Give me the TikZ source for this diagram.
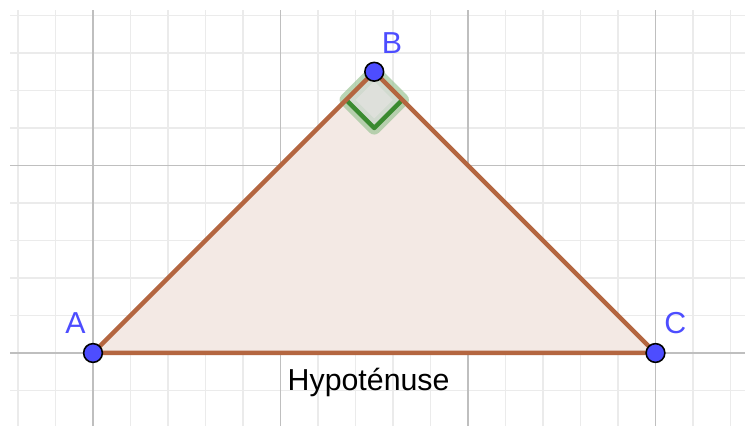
\documentclass[tikz,border=0pt]{standalone}
\usepackage{fontspec}
\setmainfont{Liberation Sans}
\usetikzlibrary{positioning, calc}

\definecolor{ptblue}{RGB}{77,77,255}
\definecolor{sidebrown}{RGB}{180,102,64}
\definecolor{trifill}{RGB}{243,233,228}
\definecolor{anglegreen}{RGB}{58,138,48}

\begin{document}
\begin{tikzpicture}[
    % Styles for grid, triangle, points and labels
    minorgrid/.style={draw=black!8, line width=1.1pt},
    majorgrid/.style={draw=black!25, line width=1.4pt},
    side/.style={draw=sidebrown, line width=3.4pt, line join=round},
    pt/.style={circle, draw=black, fill=ptblue, line width=1.2pt, minimum size=0.5cm, inner sep=0pt},
    ptlabel/.style={text=ptblue, font=\fontsize{23}{27}\selectfont, anchor=base, inner sep=0pt},
    caption/.style={text=black, font=\fontsize{23}{27}\selectfont, anchor=base, inner sep=0pt}
]

    % Frame of the picture
    \useasboundingbox (-2.48,-1.947) rectangle (17.387,9.413);
    \fill[white] (-2.48,-1.947) rectangle (17.387,9.413);

    % Grid
    \draw[minorgrid] (-2.213,-1.947) grid (17.387,9.147);
    \draw[majorgrid, step=5] (-2.213,-1.947) grid (17.387,9.147);

    % Vertices
    \coordinate (A) at (0,0);
    \coordinate (B) at (7.5,7.5);
    \coordinate (C) at (15,0);

    % Triangle
    \fill[trifill] (A) -- (B) -- (C) -- cycle;

    % Right angle mark at B
    \coordinate (ba) at ($(B)+(-0.75,-0.75)$);
    \coordinate (bc) at ($(B)+(0.75,-0.75)$);
    \coordinate (bm) at ($(B)+(0,-1.5)$);
    \draw[anglegreen!50, opacity=0.7, line width=10pt, line join=round, fill=anglegreen!30, fill opacity=0.5]
        (B) -- (ba) -- (bm) -- (bc) -- cycle;
    \fill[black!12, opacity=0.7] (B) -- (ba) -- (bm) -- (bc) -- cycle;
    \draw[anglegreen, line width=3.4pt, line join=round] (ba) -- (bm) -- (bc);

    % Sides
    \draw[side] (A) -- (B) -- (C) -- cycle;

    % Points and their labels
    \node (pA) [pt] at (A) {};
    \node (pB) [pt] at (B) {};
    \node (pC) [pt] at (C) {};
    \node (lA) [ptlabel] at (-0.47,0.53) {A};
    \node (lB) [ptlabel] at (7.97,7.99) {B};
    \node (lC) [ptlabel] at (15.53,0.51) {C};

    \node (hyp) [caption] at (7.35,-0.99) {Hypoténuse};

\end{tikzpicture}
\end{document}
